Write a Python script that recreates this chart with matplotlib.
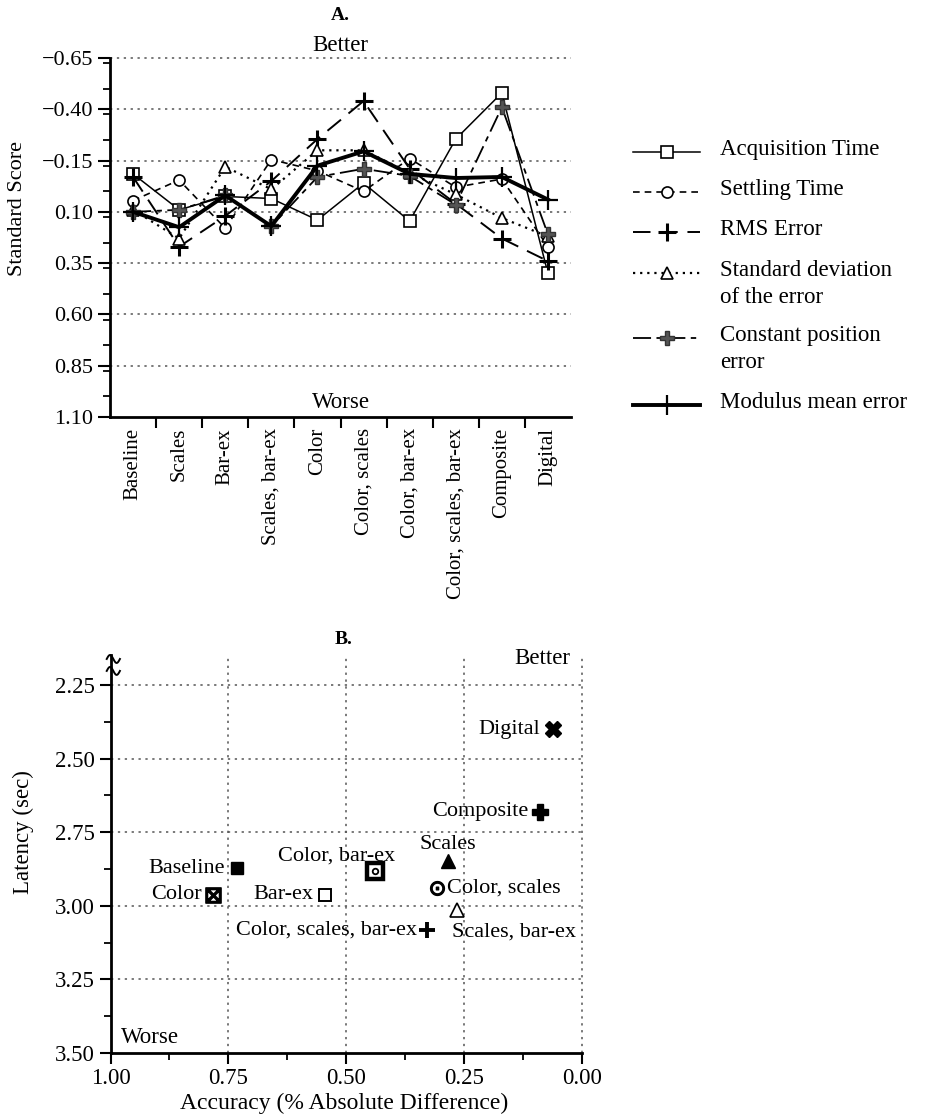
import numpy as np
import matplotlib
matplotlib.use("Agg")
import matplotlib.pyplot as plt
from matplotlib.lines import Line2D
from matplotlib.ticker import MultipleLocator, FixedLocator

plt.rcParams['font.family'] = ['Liberation Serif', 'DejaVu Serif']
plt.rcParams['axes.unicode_minus'] = True

# ---------------- Panel A data ----------------
categories = ["Baseline", "Scales", "Bar-ex", "Scales, bar-ex", "Color",
              "Color, scales", "Color, bar-ex", "Color, scales, bar-ex",
              "Composite", "Digital"]
acquisition_time = [-0.085, 0.09, 0.025, 0.035, 0.14, -0.04, 0.145, -0.255, -0.48, 0.40]
settling_time    = [0.045, -0.055, 0.18, -0.155, -0.10, 0.00, -0.16, -0.02, -0.06, 0.27]
rms_error        = [-0.07, 0.27, 0.12, -0.05, -0.255, -0.44, -0.11, 0.06, 0.23, 0.34]
sd_error         = [0.09, 0.23, -0.12, -0.01, -0.20, -0.20, -0.09, 0.015, 0.13, 0.22]
const_pos_error  = [0.10, 0.09, 0.02, 0.17, -0.07, -0.11, -0.075, 0.065, -0.41, 0.21]
modulus_error    = [0.10, 0.175, 0.02, 0.17, -0.125, -0.195, -0.085, -0.065, -0.07, 0.04]
series_names = ["Acquisition Time", "Settling Time", "RMS Error",
                "Standard deviation\nof the error", "Constant position\nerror",
                "Modulus mean error"]
a_yticks = [-0.65, -0.40, -0.15, 0.10, 0.35, 0.60, 0.85, 1.10]

# ---------------- Panel B data ----------------
b_labels = ["Digital", "Composite", "Scales", "Color, scales", "Scales, bar-ex",
            "Color, scales, bar-ex", "Color, bar-ex", "Bar-ex", "Baseline", "Color"]
b_accuracy = [0.061, 0.088, 0.284, 0.308, 0.265, 0.329, 0.439, 0.545, 0.732, 0.782]
b_latency  = [2.400, 2.680, 2.849, 2.940, 3.013, 3.081, 2.883, 2.962, 2.872, 2.962]
b_xticks = [1.00, 0.75, 0.50, 0.25, 0.00]
b_yticks = [2.25, 2.50, 2.75, 3.00, 3.25, 3.50]

W, H = 927, 1118
fig = plt.figure(figsize=(W / 100, H / 100), dpi=100)

def fx(px):
    return px / W

def fy(py):
    return 1 - py / H

FS = 16.5
GRID = dict(color='#555555', ls=(0, (1.5, 3)), lw=1.1, zorder=1)

# ================= Panel A =================
axA = fig.add_axes([fx(110), fy(417), fx(571) - fx(110), fy(58) - fy(417)])
x = np.arange(len(categories))

styles = [
    dict(ls='-', lw=1.1, marker='s', ms=8, mfc='white', mec='black', mew=1.2, color='black'),
    dict(ls=(0, (4, 3)), lw=1.2, marker='o', ms=8, mfc='white', mec='black', mew=1.2, color='black'),
    dict(ls=(0, (9, 5)), lw=1.4, marker='+', ms=13, mew=2.2, color='black'),
    dict(ls=(0, (1, 2.2)), lw=1.6, marker='^', ms=9, mfc='white', mec='black', mew=1.2, color='black'),
    dict(ls=(0, (10, 3, 3, 3)), lw=1.3, marker='P', ms=10, mfc='#555555', mec='#333333', color='black'),
    dict(ls='-', lw=2.8, marker='+', ms=14, mew=1.6, color='black'),
]
all_series = [acquisition_time, settling_time, rms_error, sd_error, const_pos_error, modulus_error]
for vals, name, st in zip(all_series, series_names, styles):
    axA.plot(x, vals, label=name, zorder=3, **st)

axA.set_xlim(-0.5, len(categories) - 0.5)
axA.set_ylim(a_yticks[-1], a_yticks[0])
axA.set_yticks(a_yticks)
axA.set_yticklabels([f"{v:.2f}".replace("-", "\u2212") for v in a_yticks], fontsize=16)
axA.yaxis.set_minor_locator(MultipleLocator(0.125))
axA.tick_params(axis='y', which='major', direction='out', length=9, width=1.5, pad=3)
axA.tick_params(axis='y', which='minor', direction='out', length=5, width=1.3)
axA.set_xticks(x)
axA.set_xticklabels(categories, rotation=90, fontsize=15, va='top')
axA.xaxis.set_minor_locator(FixedLocator(np.arange(0.5, len(categories) - 1, 1.0)))
axA.tick_params(axis='x', which='major', length=0, pad=8)
axA.tick_params(axis='x', which='minor', direction='out', length=8, width=1.5)
for s in ['top', 'right']:
    axA.spines[s].set_visible(False)
for s in ['left', 'bottom']:
    axA.spines[s].set_linewidth(2)
for v in a_yticks[:-1]:
    axA.axhline(v, clip_on=False, **GRID)

axA.text(0.5, 1.035, "Better", transform=axA.transAxes, ha='center', va='center', fontsize=FS)
axA.text(0.5, 0.04, "Worse", transform=axA.transAxes, ha='center', va='center', fontsize=FS)
fig.text(fx(340), fy(16), "A.", ha='center', va='center', fontsize=14, fontweight='bold')
fig.text(fx(18), fy(208), "Standard Score", rotation=90, ha='center', va='center', fontsize=16)

# manual legend (handle aligned with first text line)
leg_y = [152, 192, 232, 273, 338, 405]
for name, st, yy in zip(series_names, styles, leg_y):
    line_st = {k: v for k, v in st.items() if not k.startswith('m')}
    fig.add_artist(Line2D([fx(633), fx(700)], [fy(yy), fy(yy)], transform=fig.transFigure, **line_st))
    mk_st = {k: v for k, v in st.items() if k.startswith('m')}
    fig.add_artist(Line2D([fx(667)], [fy(yy)], transform=fig.transFigure, ls='none',
                          color=st.get('color', 'black'), **mk_st))
    fig.text(fx(720), fy(yy - 13), name, ha='left', va='top', fontsize=FS, linespacing=1.35)

# ================= Panel B =================
axB = fig.add_axes([fx(110.5), fy(1053), fx(581.7) - fx(110.5), fy(655) - fy(1053)])
marker_styles = [
    dict(marker='X', ms=11, color='black'),
    dict(marker='P', ms=12, color='black'),
    dict(marker='^', ms=10, color='black'),
    dict(marker=r'$\odot$', ms=10, color='black'),
    dict(marker='^', ms=10, mfc='white', mec='black', mew=1.2),
    dict(marker='+', ms=12, mew=2.8, color='black'),
    dict(marker='s', ms=11, mfc='white', mec='black', mew=3.2),
    dict(marker='s', ms=9, mfc='white', mec='black', mew=1.4),
    dict(marker='s', ms=9, color='black'),
    dict(marker=r'$\boxtimes$', ms=11, color='black'),
]
inner_markers = [None, None, None, None, None, None,
                 dict(marker='o', ms=4, mfc='white', mec='black', mew=1.3),
                 None, None, None]
label_offsets = [
    ((-13, 0), 'right'),
    ((-12, 0), 'right'),
    ((0, 17), 'center'),
    ((10, 0), 'left'),
    ((-5, -22), 'left'),
    ((-10, 0), 'right'),
    ((-38, 15), 'center'),
    ((-12, 0), 'right'),
    ((-12, 0), 'right'),
    ((-11, 0), 'right'),
]
for xa, yl, lab, ms, inner, (off, ha) in zip(b_accuracy, b_latency, b_labels, marker_styles,
                                             inner_markers, label_offsets):
    axB.plot([xa], [yl], ls='none', zorder=4, **ms)
    if inner is not None:
        axB.plot([xa], [yl], ls='none', zorder=5, **inner)
    axB.annotate(lab, (xa, yl), xytext=off, textcoords='offset pixels',
                 ha=ha, va='center', fontsize=16, zorder=5)

axB.set_xlim(1.0, 0.0)
axB.set_ylim(3.5, 2.148)
axB.set_xticks(b_xticks)
axB.set_xticklabels([f"{v:.2f}" for v in b_xticks], fontsize=16.5)
axB.set_yticks(b_yticks)
axB.set_yticklabels([f"{v:.2f}" for v in b_yticks], fontsize=16.5)
axB.xaxis.set_minor_locator(MultipleLocator(0.125))
axB.yaxis.set_minor_locator(MultipleLocator(0.125))
axB.tick_params(which='major', direction='out', length=8, width=1.5, pad=3)
axB.tick_params(which='minor', direction='out', length=5, width=1.3)
for s in ['top', 'right']:
    axB.spines[s].set_visible(False)
for s in ['left', 'bottom']:
    axB.spines[s].set_linewidth(2)
for v in b_yticks[:-1]:
    axB.axhline(v, **GRID)
for v in b_xticks[1:]:
    axB.axvline(v, clip_on=False, **GRID)

axB.text(0.975, 0.99, "Better", transform=axB.transAxes, ha='right', va='center', fontsize=16.5)
axB.text(0.023, 0.04, "Worse", transform=axB.transAxes, ha='left', va='center', fontsize=16.5)
fig.text(fx(344), fy(640), "B.", ha='center', va='center', fontsize=14, fontweight='bold')
fig.text(fx(23), fy(832), "Latency (sec)", rotation=90, ha='center', va='center', fontsize=16.5)
fig.text(fx(344), fy(1103), "Accuracy (% Absolute Difference)", ha='center', va='center', fontsize=17)

# axis-break squiggles on the latency axis
t = np.linspace(0, 1, 40)
for yc in (0.99, 0.96):
    axB.plot(-0.008 + 0.028 * t, yc + 0.01 * np.sin(2 * np.pi * t), color='black', lw=1.4,
             transform=axB.transAxes, clip_on=False, zorder=6)

fig.savefig("out.png", dpi=100)
